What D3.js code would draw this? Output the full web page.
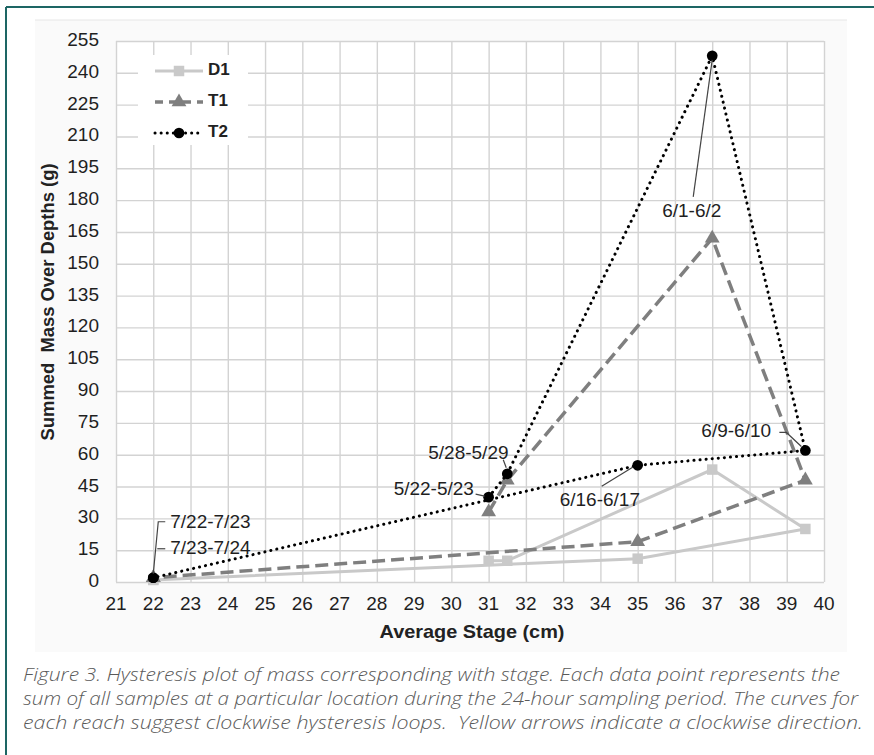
<!DOCTYPE html>
<html>
<head>
<meta charset="utf-8">
<script src="https://d3js.org/d3.v7.min.js"></script>
<style>
  body { margin: 0; background: #fff; }
  svg { display: block; }
  text { font-family: "Liberation Sans", Arial, sans-serif; }
  .grid line { stroke: #d3d3d3; stroke-width: 1.4; }
  .grid .domain { display: none; }
  .tick-label { font-size: 19px; fill: #1f1f1f; }
  .caption { font-family: "Open Sans", sans-serif; font-style: italic; font-weight: 300; font-size: 18px; fill: #5a5a5a; white-space: pre; }
</style>
</head>
<body>
<script>
// data, in sampling order
var dates = ['5/22-5/23', '5/28-5/29', '6/1-6/2', '6/9-6/10', '6/16-6/17', '7/22-7/23', '7/23-7/24'];
var stage = [31, 31.5, 37, 39.5, 35, 22, 22];
var d1 = [10, 10, 53, 25, 11, 1, 1];
var t1 = [33, 48, 162, 48, 19, 2, 2];
var t2 = [40, 51, 248, 62, 55, 2, 2];

var xTicks = d3.range(21, 41, 1);
var yTicks = d3.range(0, 256, 15);

var caption = [
  'Figure 3. Hysteresis plot of mass corresponding with stage. Each data point represents the',
  'sum of all samples at a particular location during the 24-hour sampling period. The curves for',
  'each reach suggest clockwise hysteresis loops.  Yellow arrows indicate a clockwise direction.'
];

var W = 874, H = 755;
var margin = {top: 41, right: 50, bottom: 173, left: 116};
var width = W - margin.left - margin.right,
    height = H - margin.top - margin.bottom;

var svg = d3.select('body').append('svg')
  .attr('width', W)
  .attr('height', H);

// outer frame (only left & top edges show in the crop)
svg.append('line').attr('x1', 6).attr('y1', 7).attr('x2', W).attr('y2', 7)
  .attr('stroke', '#1d6664').attr('stroke-width', 2);
svg.append('line').attr('x1', 6).attr('y1', 7).attr('x2', 6).attr('y2', H)
  .attr('stroke', '#1d6664').attr('stroke-width', 2);

// chart image background
svg.append('rect').attr('x', 35).attr('y', 20).attr('width', 812).attr('height', 632)
  .attr('fill', '#fafafa');
svg.append('line').attr('x1', 35).attr('x2', 847).attr('y1', 20).attr('y2', 20)
  .attr('stroke', '#e6e6e6').attr('stroke-width', 1);

var g = svg.append('g')
  .attr('transform', `translate(${margin.left}, ${margin.top})`);

var x = d3.scaleLinear().domain([21, 40]).range([0, width]);
var y = d3.scaleLinear().domain([0, 255]).range([height, 0]);

g.append('rect').attr('width', width).attr('height', height).attr('fill', '#fff');

// grid
g.append('g').attr('class', 'grid')
  .attr('transform', `translate(0, ${height})`)
  .call(d3.axisBottom(x).tickValues(xTicks).tickSize(-height).tickFormat(''));
g.append('g').attr('class', 'grid')
  .call(d3.axisLeft(y).tickValues(yTicks).tickSize(-width).tickFormat(''));

// tick labels
g.selectAll('.ylab').data(yTicks).enter().append('text')
  .attr('class', 'tick-label')
  .attr('x', -17).attr('y', d => y(d))
  .attr('text-anchor', 'end').attr('dominant-baseline', 'middle')
  .text(d => d);
g.selectAll('.xlab').data(xTicks).enter().append('text')
  .attr('class', 'tick-label')
  .attr('x', d => x(d)).attr('y', height + 23)
  .attr('text-anchor', 'middle').attr('dominant-baseline', 'middle')
  .text(d => d);

// axis titles
g.append('text')
  .attr('x', 356).attr('y', height + 51)
  .attr('text-anchor', 'middle').attr('dominant-baseline', 'middle')
  .style('font-size', '19px').style('font-weight', 'bold').attr('fill', '#222')
  .attr('textLength', 185).attr('lengthAdjust', 'spacingAndGlyphs')
  .text('Average Stage (cm)');
g.append('text')
  .attr('transform', `translate(-67, ${y(132)}) rotate(-90)`)
  .attr('text-anchor', 'middle').attr('dominant-baseline', 'middle')
  .style('font-size', '18px').style('font-weight', 'bold').attr('fill', '#222')
  .style('white-space', 'pre')
  .attr('textLength', 277).attr('lengthAdjust', 'spacingAndGlyphs')
  .text('Summed  Mass Over Depths (g)');

var series = [
  {name: 'D1', vals: d1, color: '#c9c9c9', dash: null, width: 3, marker: d3.symbolSquare, size: 110},
  {name: 'T1', vals: t1, color: '#7f7f7f', dash: '13,6', width: 3.5, marker: d3.symbolTriangle, size: 95},
  {name: 'T2', vals: t2, color: '#000', dash: '0.1,6', width: 3, marker: d3.symbolCircle, size: 90}
];

var line = d3.line().x(d => x(d[0])).y(d => y(d[1]));

series.forEach(s => {
  var pts = stage.map((st, i) => [st, s.vals[i]]);
  g.append('path')
    .datum(pts)
    .attr('d', line)
    .attr('fill', 'none')
    .attr('stroke', s.color)
    .attr('stroke-width', s.width)
    .attr('stroke-linecap', s.dash === '0.1,6' ? 'round' : 'butt')
    .attr('stroke-dasharray', s.dash);
  g.selectAll(null).data(pts).enter().append('path')
    .attr('d', d3.symbol().type(s.marker).size(s.size))
    .attr('transform', d => `translate(${x(d[0])}, ${y(d[1])})`)
    .attr('fill', s.color);
});

// date annotations, anchored on the T2 points
var ann = [
  {i: 0, dx: -95, dy: -7, lead: [[-13, -3], [-4, -1]]},
  {i: 1, dx: -79, dy: -20, lead: [[-4, -14], [-1, -6]]},
  {i: 2, dx: -50, dy: 156, lead: [[-19, 141], [0, 4]]},
  {i: 3, dx: -104, dy: -18, lead: [[-26, -18], [-19, -18], [-4, -4]]},
  {i: 4, dx: -78, dy: 36, lead: [[-36, 21], [-5, 2]]},
  {i: 5, dx: 17, dy: -55, lead: [[12, -56], [5, -56], [0, -4]]},
  {i: 6, dx: 17, dy: -29, lead: [[12, -29], [4, -29]]}
];
ann.forEach(a => {
  var px = x(stage[a.i]), py = y(t2[a.i]);
  g.append('path')
    .attr('d', d3.line()(a.lead.map(p => [px + p[0], py + p[1]])))
    .attr('fill', 'none').attr('stroke', '#444').attr('stroke-width', 1.2);
  g.append('text')
    .attr('x', px + a.dx).attr('y', py + a.dy)
    .attr('dominant-baseline', 'middle')
    .style('font-size', '19px').attr('fill', '#1f1f1f')
    .text(dates[a.i]);
});

// legend
var leg = svg.append('g');
leg.append('rect').attr('x', 138).attr('y', 55).attr('width', 110).attr('height', 90).attr('fill', '#fff');
series.forEach((s, i) => {
  var ly = 71 + i * 31;
  leg.append('line').attr('x1', 155).attr('x2', 203).attr('y1', ly).attr('y2', ly)
    .attr('stroke', s.color).attr('stroke-width', s.width)
    .attr('stroke-linecap', s.dash === '0.1,6' ? 'round' : 'butt')
    .attr('stroke-dasharray', s.dash === '13,6' ? '8,6' : s.dash);
  leg.append('path')
    .attr('d', d3.symbol().type(s.marker).size(s.size))
    .attr('transform', `translate(179, ${ly})`)
    .attr('fill', s.color);
  leg.append('text')
    .attr('x', 208).attr('y', ly)
    .attr('dominant-baseline', 'middle')
    .style('font-size', '17px').style('font-weight', 'bold').attr('fill', '#222')
    .text(s.name);
});

// caption
var capEnds = [840, 858, 863];
caption.forEach((c, i) => {
  svg.append('text')
    .attr('class', 'caption')
    .attr('x', 23).attr('y', 676 + i * 24)
    .attr('dominant-baseline', 'middle')
    .attr('textLength', capEnds[i] - 23)
    .attr('lengthAdjust', 'spacingAndGlyphs')
    .text(c);
});
</script>
</body>
</html>
